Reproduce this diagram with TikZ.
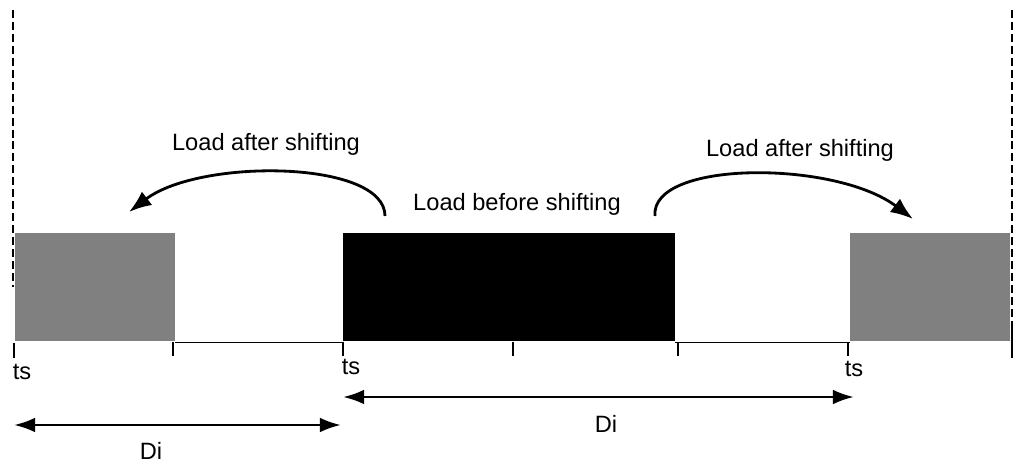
\documentclass[tikz,border=0pt]{standalone}
\usepackage{fontspec}
\setmainfont{Liberation Sans}
\usetikzlibrary{arrows.meta, positioning, calc}
\usepackage{xcolor}
\definecolor{shiftgray}{HTML}{808080}
\definecolor{shiftdark}{HTML}{000000}

\begin{document}
\begin{tikzpicture}[
  x=0.025cm, y=-0.025cm,
  loadbox/.style={
    rectangle, minimum height=2.7cm, inner sep=0pt,
    fill=#1, draw=none
  },
  lbl/.style={font=\fontsize{16.8}{20}\selectfont, inner sep=0pt, text=shiftdark},
  thinline/.style={line width=0.9pt, shiftdark},
  bigarrow/.style={line width=2pt, -{Latex[length=16pt,width=12pt]}},
  dimarrow/.style={line width=2pt, {Latex[length=15pt,width=10.5pt]}-{Latex[length=15pt,width=10.5pt]}}
]
  \useasboundingbox (0,0) rectangle (1024,471);

  % window limits
  \draw[line width=1pt, dash pattern=on 5.7pt off 2.8pt] (13,10) -- (13,287);
  \draw[line width=1pt, dash pattern=on 5.7pt off 2.8pt] (1012,10) -- (1012,328);

  % loads
  \node[loadbox=shiftgray, minimum width=4cm] (leftload) at (95,287) {};
  \node[loadbox=shiftdark, minimum width=8.3cm] (load) at (509,287) {};
  \node[loadbox=shiftgray, minimum width=4cm] (rightload) at (930,287) {};

  % time axis
  \draw[thinline] ($(leftload.south east)+(0,1)$) -- ($(load.south west)+(0,1)$);
  \draw[thinline] ($(load.south east)+(0,1)$) -- ($(rightload.south west)+(0,1)$);
  \foreach \x in {173,343,513,678,848}
    \draw[thinline] (\x,342) -- (\x,356);
  \draw[thinline] (14,343) -- (14,358);
  \draw[thinline] (1012,328) -- (1012,358);

  \node[lbl] (ts1) at (22,372) {ts};
  \node[lbl] (ts2) at (351,367) {ts};
  \node[lbl] (ts3) at (854,369) {ts};

  % durations
  \coordinate (da1) at (14,425);
  \coordinate (db1) at (341,425);
  \coordinate (da2) at (343,397);
  \coordinate (db2) at (854,397);
  \draw[dimarrow] (da1) -- (db1);
  \draw[dimarrow] (da2) -- (db2);
  \node[lbl] (di1) at (151,451) {Di};
  \node[lbl] (di2) at (606,424) {Di};

  % shifting
  \node[lbl] (before) at (517,204) {Load before shifting};
  \node[lbl] (afterl) at (266,144) {Load after shifting};
  \node[lbl] (afterr) at (800,150) {Load after shifting};

  \coordinate (sl) at (385,216);
  \coordinate (el) at (129,212);
  \coordinate (sr) at (655,216);
  \coordinate (er) at (913,219);
  \draw[bigarrow] (sl) .. controls (385,160) and (200,158) .. (el);
  \draw[bigarrow] (sr) .. controls (650,160) and (835,160) .. (er);
\end{tikzpicture}
\end{document}
